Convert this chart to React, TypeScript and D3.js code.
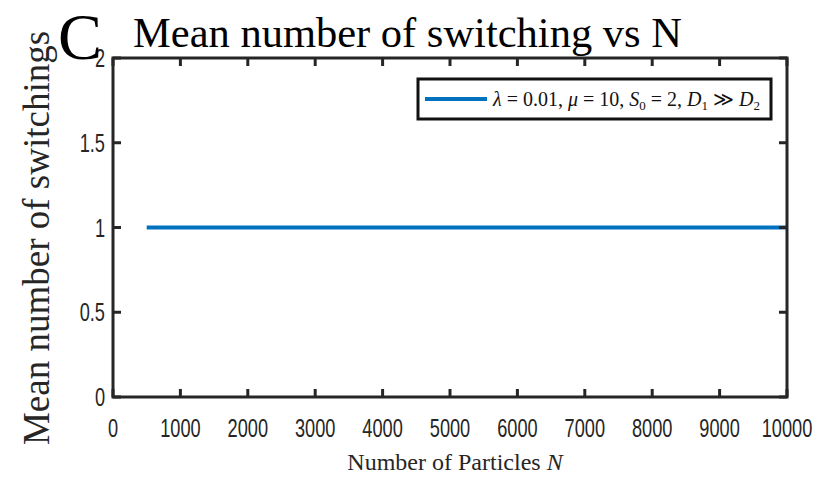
import React from "react";
import * as d3 from "d3";

const xTicks = [0, 1000, 2000, 3000, 4000, 5000, 6000, 7000, 8000, 9000, 10000];
const yTicks = [0, 0.5, 1, 1.5, 2];
const seriesN = [500, 10000];
const seriesMean = [1, 1];
const titleText = "Mean number of switching vs N";
const xLabelText = "Number of Particles ";
const yLabelText = "Mean number of switchings";
const panelLabel = "C";

const W = 818;
const H = 477;
const M = { left: 113, right: 787, top: 58, bottom: 397 };
const AX = "#262626";
const SERIF = "'Liberation Serif', 'Times New Roman', Times, serif";
const SANS = "'Liberation Sans', Arial, Helvetica, sans-serif";

export default function App() {
  const x = d3.scaleLinear().domain([0, 10000]).range([M.left, M.right]);
  const y = d3.scaleLinear().domain([0, 2]).range([M.bottom, M.top]);
  const pts: [number, number][] = seriesN.map((n, i) => [n, seriesMean[i]]);
  const line = d3
    .line<[number, number]>()
    .x((d) => x(d[0]))
    .y((d) => y(d[1]));
  const tl = 8;
  const fmt = (v: number) => String(v);

  return (
    <svg
      width={W}
      height={H}
      style={{ position: "absolute", left: 0, top: 0, background: "#fff" }}
    >
      <rect x={0} y={0} width={W} height={H} fill="#fff" />
      {/* series */}
      <path d={line(pts) || ""} fill="none" stroke="#0072BD" strokeWidth={4} />
      {/* ticks */}
      {xTicks.map((t) => (
        <g key={"xt" + t}>
          <line x1={x(t)} x2={x(t)} y1={M.bottom} y2={M.bottom - tl} stroke={AX} strokeWidth={3} />
          <line x1={x(t)} x2={x(t)} y1={M.top} y2={M.top + tl} stroke={AX} strokeWidth={3} />
          <text
            transform={`translate(${x(t)},${437}) scale(0.7,1)`}
            textAnchor="middle"
            fontFamily={SANS}
            fontSize={26}
            fill={AX}
          >
            {fmt(t)}
          </text>
        </g>
      ))}
      {yTicks.map((t) => (
        <g key={"yt" + t}>
          <line x1={M.left} x2={M.left + tl} y1={y(t)} y2={y(t)} stroke={AX} strokeWidth={3} />
          <line x1={M.right} x2={M.right - tl} y1={y(t)} y2={y(t)} stroke={AX} strokeWidth={3} />
          <text
            transform={`translate(${105},${y(t) + 9}) scale(0.7,1)`}
            textAnchor="end"
            fontFamily={SANS}
            fontSize={26}
            fill={AX}
          >
            {fmt(t)}
          </text>
        </g>
      ))}
      {/* frame */}
      <rect
        x={M.left}
        y={M.top}
        width={M.right - M.left}
        height={M.bottom - M.top}
        fill="none"
        stroke={AX}
        strokeWidth={3}
      />
      {/* legend */}
      <rect x={418} y={79} width={353} height={40} fill="#fff" stroke="#111" strokeWidth={3} />
      <line x1={425} x2={487} y1={99} y2={99} stroke="#0072BD" strokeWidth={4} />
      <text x={493} y={106} fontFamily={SERIF} fontSize={20} fill="#111">
        <tspan fontStyle="italic">λ</tspan>
        <tspan> = 0.01, </tspan>
        <tspan fontStyle="italic">μ</tspan>
        <tspan> = 10, </tspan>
        <tspan fontStyle="italic">S</tspan>
        <tspan fontSize={13} dy={4}>0</tspan>
        <tspan dy={-4}> = 2, </tspan>
        <tspan fontStyle="italic">D</tspan>
        <tspan fontSize={13} dy={4}>1</tspan>
        <tspan dy={-4}> ≫ </tspan>
        <tspan fontStyle="italic">D</tspan>
        <tspan fontSize={13} dy={4}>2</tspan>
      </text>
      {/* title */}
      <text x={133} y={47} fontFamily={SERIF} fontSize={42.5} fill="#000">
        {titleText}
      </text>
      {/* panel label */}
      <text x={58} y={59} fontFamily={SERIF} fontSize={66} fill="#000">
        {panelLabel}
      </text>
      {/* x label */}
      <text x={455} y={470} textAnchor="middle" fontFamily={SERIF} fontSize={24} fill={AX}>
        {xLabelText}
        <tspan fontStyle="italic">N</tspan>
      </text>
      {/* y label */}
      <text
        transform={`translate(49,${238}) rotate(-90)`}
        textAnchor="middle"
        fontFamily={SERIF}
        fontSize={37}
        fill={AX}
      >
        {yLabelText}
      </text>
    </svg>
  );
}
